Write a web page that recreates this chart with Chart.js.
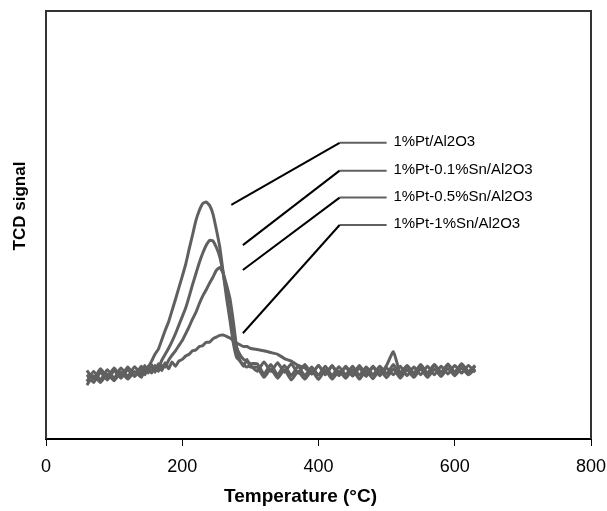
<!DOCTYPE html>
<html>
<head>
<meta charset="utf-8">
<script src="https://cdn.jsdelivr.net/npm/chart.js@4.4.1/dist/chart.umd.min.js"></script>
<style>
  html, body { margin: 0; padding: 0; background: #fff; }
  #chart { display: block; }
</style>
</head>
<body>
<canvas id="chart" width="607" height="511"></canvas>
<script>
// temperature grid (°C), denser round the peaks
const temps = [
  60, 70, 80, 90, 100, 110, 120, 130, 140,
  145, 150, 155, 160, 165, 170, 175, 180, 185, 190, 195, 200, 205, 210, 215, 220,
  225, 230, 235, 240, 245, 250, 255, 260, 265, 270, 275, 280, 285, 290, 295, 300,
  310, 320, 330, 340, 350, 360, 370, 380, 390, 400, 410, 420, 430, 440, 450, 460,
  470, 480, 490, 500, 510, 520, 530, 540, 550, 560, 570, 580, 590, 600, 610, 620, 630
];

const seriesNames = ["1%Pt/Al2O3", "1%Pt-0.1%Sn/Al2O3", "1%Pt-0.5%Sn/Al2O3", "1%Pt-1%Sn/Al2O3"];

const ptOnly = [
  12.6, 14.8, 13.2, 15.2, 13.6, 15.6, 14.0, 15.8, 14.4,
  16.2, 16.8, 18.2, 19.8, 21.0, 23.2, 25.4, 27.4, 30.0, 32.6, 35.3, 38.0, 40.8, 44.3, 47.6, 51.0,
  53.4, 55.0, 55.4, 54.6, 52.6, 49.0, 44.9, 39.0, 33.0, 27.8, 22.4, 19.0, 18.2, 17.0, 18.6, 16.8,
  16.8, 14.4, 16.4, 14.2, 16.2, 13.8, 15.8, 14.0, 16.0, 13.9, 16.1, 14.0, 15.9, 14.2, 16.2, 14.0,
  16.0, 14.1, 16.2, 14.3, 16.4, 14.2, 16.2, 14.4, 16.4, 14.4, 16.3, 14.6, 16.5, 14.8, 16.6, 15.0, 16.4
];

const sn01 = [
  15.0, 13.2, 15.6, 13.8, 16.0, 14.2, 16.2, 14.6, 16.4,
  15.0, 16.8, 15.4, 17.0, 16.6, 18.4, 19.8, 21.2, 22.8, 24.6, 26.6, 28.6, 30.6, 33.2, 36.0, 38.6,
  41.2, 43.4, 45.2, 46.4, 46.3, 44.8, 42.6, 38.8, 34.2, 28.8, 24.2, 21.4, 19.6, 18.6, 18.2, 17.6,
  17.6, 15.2, 17.4, 15.0, 17.2, 14.8, 17.0, 14.8, 16.8, 14.9, 17.0, 14.8, 16.9, 15.0, 17.0, 14.9,
  16.8, 15.0, 17.0, 15.2, 17.4, 15.0, 17.0, 15.2, 17.2, 15.2, 17.2, 15.4, 17.3, 15.6, 17.4, 15.7, 17.2
];

const sn05 = [
  16.0, 14.0, 16.4, 14.4, 16.6, 14.6, 16.8, 14.8, 17.0,
  15.2, 17.0, 15.6, 17.2, 15.8, 17.2, 16.8, 18.4, 19.6, 20.6, 21.8, 23.0, 24.6, 26.2, 28.0, 29.6,
  31.6, 33.4, 34.8, 36.4, 37.8, 39.4, 40.1, 38.8, 36.0, 32.8, 27.4, 21.2, 18.2, 17.4, 16.8, 17.2,
  15.8, 18.0, 15.8, 17.8, 15.6, 17.6, 15.4, 17.4, 15.2, 17.2, 15.2, 17.2, 15.0, 17.0, 15.1, 17.2,
  15.0, 17.0, 15.1, 17.2, 20.4, 15.4, 17.2, 15.4, 17.4, 15.4, 17.4, 15.6, 17.5, 15.6, 17.6, 15.8, 17.0
];

const sn1 = [
  13.4, 15.8, 13.8, 16.2, 14.2, 16.6, 14.6, 16.9, 15.0,
  17.2, 15.4, 17.4, 15.6, 17.6, 16.0, 17.8, 16.4, 18.0, 17.0, 18.2, 18.6, 19.4, 19.8, 20.6, 20.8,
  21.6, 21.8, 22.6, 22.6, 23.4, 23.8, 24.2, 24.3, 24.0, 23.6, 23.0, 22.4, 22.0, 21.6, 21.6, 21.2,
  20.9, 20.6, 20.2, 19.8, 18.8, 18.2, 17.2, 16.6, 15.2, 17.2, 15.0, 17.0, 14.8, 16.8, 14.7, 16.6,
  14.6, 16.8, 14.8, 16.6, 15.0, 17.0, 14.8, 16.8, 15.0, 17.0, 15.0, 17.0, 15.2, 17.2, 15.4, 17.2, 15.6
];

const xTicks = [0, 200, 400, 600, 800];

// label callouts: where each label sits and where its pointer ends
const labelLineY = [69.2, 62.7, 56.4, 50.0];
const pointerEndX = [272, 289, 289, 289];
const pointerEndY = [54.7, 45.3, 39.5, 24.7];
const labelStartX = 431;
const labelEndX = 500;
const labelTextX = 510;

const gray = "#606060";
const fontFamily = "'Liberation Sans', Arial, Helvetica, sans-serif";

const curves = [ptOnly, sn01, sn05, sn1].map((vals, i) => ({
  label: seriesNames[i],
  data: temps.map((t, j) => ({ x: t, y: vals[j] })),
  borderColor: gray,
  borderWidth: 3,
  pointRadius: 0,
  tension: 0.15,
  fill: false
}));

const pointers = seriesNames.map((name, i) => ({
  label: "pointer " + i,
  data: [{ x: pointerEndX[i], y: pointerEndY[i] }, { x: labelStartX, y: labelLineY[i] }],
  borderColor: "#000",
  borderWidth: 2,
  pointRadius: 0,
  tension: 0
}));

const stubs = seriesNames.map((name, i) => ({
  label: "stub " + i,
  data: [{ x: labelStartX, y: labelLineY[i] }, { x: labelEndX, y: labelLineY[i] }],
  borderColor: gray,
  borderWidth: 2,
  pointRadius: 0,
  tension: 0
}));

const decorations = {
  id: "decorations",
  beforeDatasetsDraw(chart) {
    const { ctx, chartArea: a } = chart;
    ctx.save();
    ctx.strokeStyle = "#333";
    ctx.lineWidth = 2;
    ctx.beginPath();
    ctx.moveTo(a.left, a.bottom);
    ctx.lineTo(a.left, a.top);
    ctx.lineTo(a.right, a.top);
    ctx.lineTo(a.right, a.bottom);
    ctx.stroke();
    ctx.restore();
  },
  afterDraw(chart) {
    const { ctx, scales } = chart;
    const x = scales.x, y = scales.y;
    ctx.save();
    ctx.fillStyle = "#000";
    ctx.textBaseline = "middle";
    ctx.font = "15px " + fontFamily;
    ctx.textAlign = "left";
    seriesNames.forEach((name, i) => {
      ctx.fillText(name, x.getPixelForValue(labelTextX), y.getPixelForValue(labelLineY[i]) - 1);
    });
    ctx.font = "bold 19px " + fontFamily;
    ctx.textAlign = "center";
    ctx.fillText("Temperature (\u00B0C)", 300.5, 497);
    ctx.font = "bold 17px " + fontFamily;
    ctx.translate(20, 206);
    ctx.rotate(-Math.PI / 2);
    ctx.fillText("TCD signal", 0, 0);
    ctx.restore();
  }
};

new Chart(document.getElementById("chart"), {
  type: "line",
  data: { datasets: [...curves, ...pointers, ...stubs] },
  options: {
    responsive: false,
    devicePixelRatio: 1,
    animation: false,
    layout: { padding: { left: 46, top: 11, right: 16, bottom: 0 } },
    plugins: { legend: { display: false }, tooltip: { enabled: false } },
    scales: {
      x: {
        type: "linear",
        min: 0,
        max: 800,
        afterBuildTicks: (s) => { s.ticks = xTicks.map((v) => ({ value: v })); },
        afterFit: (s) => { s.height = 72; s.paddingLeft = 0; s.paddingRight = 0; },
        border: { display: true, color: "#000", width: 2 },
        grid: { drawOnChartArea: false, drawTicks: true, tickLength: 7, color: "#000", lineWidth: 1 },
        ticks: { color: "#000", padding: 10, maxRotation: 0, font: { size: 18, family: fontFamily } }
      },
      y: {
        type: "linear",
        min: 0,
        max: 100,
        afterFit: (s) => { s.width = 0; },
        border: { display: false },
        grid: { display: false },
        ticks: { display: false }
      }
    }
  },
  plugins: [decorations]
});
</script>
</body>
</html>
